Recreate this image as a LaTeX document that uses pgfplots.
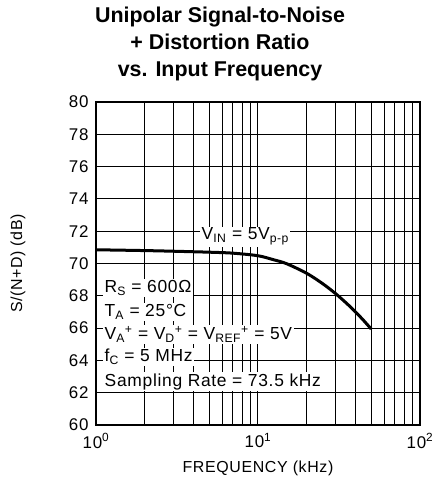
\documentclass[border=0pt]{standalone}
\usepackage{fontspec}
\setmainfont{Liberation Sans}
\newfontfamily\plotfont[LetterSpace=4]{Liberation Sans}
\usepackage{pgfplots}
\pgfplotsset{compat=1.18}
\begin{document}
\begin{tikzpicture}
\useasboundingbox (-96bp,-78bp) rectangle (337bp,425bp);
\begin{axis}[
    ,at={(0bp,0bp)},anchor=south west
    ,scale only axis,width=324bp,height=323bp
    ,xmode=log,xmin=1,xmax=100,ymin=60,ymax=80
    ,xtick={1,10,100}
    ,xticklabels={10\textsuperscript{0},10\textsuperscript{1},10\textsuperscript{2}}
    ,minor xtick={2,3,4,5,6,7,8,9,20,30,40,50,60,70,80,90}
    ,ytick={60,62,...,80}
    ,grid=both
    ,major grid style={black,line width=1bp}
    ,minor grid style={black,line width=1bp}
    ,axis line style={black,line width=1.2bp}
    ,major tick length=0pt,minor tick length=0pt
    ,tick label style={font=\fontsize{17}{20}\selectfont\plotfont}
    ,/pgf/number format/assume math mode=true
    ,xticklabel style={yshift=-5bp}
    ,yticklabel style={xshift=-4bp}
    ]
% S/(N+D) curve
\addplot[black,line width=3bp,smooth,no marks] coordinates {
 (1,70.85) (2,70.8) (3,70.76) (5,70.7) (7,70.64) (10,70.48)
 (12.5,70.23) (15,69.99) (20,69.39) (25,68.76) (30,68.15) (35,67.56)
 (40,67.0) (45,66.46) (50,65.94)};
\end{axis}

% labels inside the plot, white boxes break the grid
\tikzset{lbl/.style={anchor=base west,fill=white,inner sep=1.5bp,font=\fontsize{17.5}{20}\selectfont\plotfont}}
\node[lbl] at (104bp,185bp) {V\textsubscript{IN} = 5V\textsubscript{p-p}};
\node[lbl] at (7bp,132bp) {R\textsubscript{S} = 600Ω};
\node[lbl] at (7bp,108bp) {T\textsubscript{A} = 25°C};
\node[lbl] at (7bp,85bp) {V\textsubscript{A}\textsuperscript{+} = V\textsubscript{D}\textsuperscript{+} = V\textsubscript{REF}\textsuperscript{+} = 5V};
\node[lbl] at (7bp,63bp) {f\textsubscript{C} = 5 MHz};
\node[lbl] at (7bp,39bp) {Sampling Rate = 73.5 kHz};

% axis labels
\node[rotate=90,font=\fontsize{16}{18}\selectfont\plotfont] at (-78bp,161.5bp) {S/(N+D) (dB)};
\node[font=\fontsize{16}{18}\selectfont\plotfont] at (162bp,-43bp) {FREQUENCY (kHz)};

% title
\tikzset{ttl/.style={anchor=base,font=\fontsize{21.5}{24}\selectfont\bfseries}}
\node[ttl] at (124bp,402bp) {Unipolar Signal-to-Noise};
\node[ttl] at (124bp,375bp) {+ Distortion Ratio};
\node[ttl] at (124bp,348bp) {vs. Input Frequency};
\end{tikzpicture}
\end{document}
